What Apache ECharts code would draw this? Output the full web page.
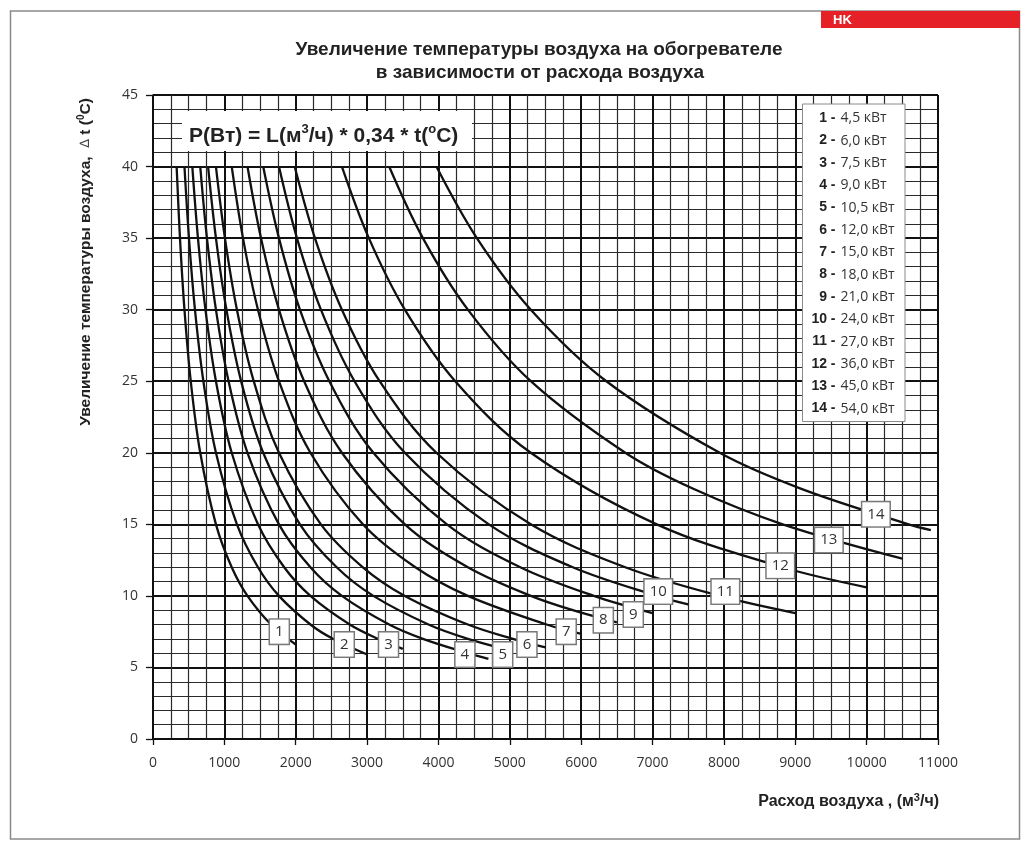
<!DOCTYPE html>
<html><head><meta charset="utf-8">
<script src="https://cdn.jsdelivr.net/npm/echarts@6/dist/echarts.min.js"></script>
<style>html,body{margin:0;padding:0;background:#fff}#c{width:1032px;height:850px}</style>
</head><body><div id="c"></div>
<script>
// ---- data ----
const curveNames = ['1','2','3','4','5','6','7','8','9','10','11','12','13','14'];
const powerLabels = ['4,5 кВт','6,0 кВт','7,5 кВт','9,0 кВт','10,5 кВт','12,0 кВт','15,0 кВт','18,0 кВт','21,0 кВт','24,0 кВт','27,0 кВт','36,0 кВт','45,0 кВт','54,0 кВт'];

// [air flow m3/h, temperature rise °C]
const curve1  = [[331,40],[378,35],[441,30],[529,25],[662,20],[882,15],[1103,12],[1324,10],[1654,8],[2000,6.6]];
const curve2  = [[441,40],[504,35],[588,30],[706,25],[882,20],[1176,15],[1471,12],[1765,10],[2206,8],[2521,7],[3000,5.9]];
const curve3  = [[551,40],[630,35],[735,30],[882,25],[1103,20],[1471,15],[1838,12],[2206,10],[2757,8],[3151,7],[3500,6.3]];
const curve4  = [[662,40],[756,35],[882,30],[1059,25],[1324,20],[1765,15],[2206,12],[2647,10],[3309,8],[3782,7],[4412,6],[4700,5.6]];
const curve5  = [[772,40],[882,35],[1029,30],[1235,25],[1544,20],[2059,15],[2574,12],[3088,10],[3860,8],[4412,7],[5000,6.2]];
const curve6  = [[882,40],[1008,35],[1176,30],[1412,25],[1765,20],[2353,15],[2941,12],[3529,10],[4412,8],[5042,7],[5500,6.4]];
const curve7  = [[1103,40],[1261,35],[1471,30],[1765,25],[2206,20],[2941,15],[3676,12],[4412,10],[5515,8],[6000,7.35]];
const curve8  = [[1324,40],[1513,35],[1765,30],[2118,25],[2647,20],[3529,15],[4412,12],[5294,10],[5882,9],[6500,8.15]];
const curve9  = [[1544,40],[1765,35],[2059,30],[2471,25],[3088,20],[4118,15],[5147,12],[6176,10],[7000,8.8]];
const curve10 = [[1765,40],[2017,35],[2353,30],[2824,25],[3529,20],[4706,15],[5882,12],[7059,10],[7500,9.4]];
const curve11 = [[1985,40],[2269,35],[2647,30],[3176,25],[3971,20],[5294,15],[6618,12],[7941,10],[9000,8.8]];
const curve12 = [[2647,40],[3025,35],[3529,30],[4235,25],[5294,20],[7059,15],[8824,12],[10000,10.6]];
const curve13 = [[3309,40],[3782,35],[4412,30],[5294,25],[6618,20],[7563,17.5],[8824,15],[10500,12.6]];
const curve14 = [[3971,40],[4538,35],[5294,30],[6353,25],[7941,20],[9076,17.5],[10588,15],[10900,14.6]];
const curves = [curve1,curve2,curve3,curve4,curve5,curve6,curve7,curve8,curve9,curve10,curve11,curve12,curve13,curve14];

// positions of the numbered boxes on the curves
const labelPoints = [[1770,7.5],[2680,6.6],[3300,6.6],[4370,5.9],[4900,5.9],[5240,6.6],[5790,7.5],[6310,8.3],[6730,8.7],[7080,10.3],[8020,10.3],[8790,12.1],[9470,13.9],[10130,15.7]];

const titleLines = ['Увеличение температуры воздуха на обогревателе','в зависимости от расхода воздуха'];

// ---- chart ----
const chart = echarts.init(document.getElementById('c'), null, {renderer:'canvas'});
const tickFont = 'Open Sans';
const boldFont = 'Liberation Sans';

const series = curves.map((c,i)=>({
  type:'line', name:curveNames[i], data:c, showSymbol:false, smooth:0.35,
  lineStyle:{color:'#111', width:2.3}, z:3, silent:true
}));
series.push({
  type:'scatter', name:'labels', symbolSize:0.1, z:10, silent:true,
  itemStyle:{color:'#fff', opacity:1},
  data: labelPoints.map((p,i)=>({value:p, name:curveNames[i]})),
  label:{show:true, position:'inside', formatter:p=>p.name, fontFamily:tickFont, fontSize:15, opacity:1,
    color:'#333', backgroundColor:'#fff', borderColor:'#7a7a7a', borderWidth:1.5, padding:[5,5,4,5]}
});

const legendElems = [];
legendElems.push({type:'rect', shape:{x:802.5,y:104,width:102.5,height:317.5}, style:{fill:'#fff', stroke:'#8a8a8a', lineWidth:1}, z:20});
curveNames.forEach((n,i)=>{
  const y = 118.3 + i*22.33;
  legendElems.push({type:'text', x:835.5, y:y, z:21, style:{text:n+' -', font:'bold 14px "'+boldFont+'"', fill:'#222', textAlign:'right', textVerticalAlign:'middle'}});
  legendElems.push({type:'text', x:840.5, y:y, z:21, style:{text:powerLabels[i], font:'14px "'+tickFont+'"', fill:'#333', textAlign:'left', textVerticalAlign:'middle'}});
});

const option = {
  animation:false,
  backgroundColor:'#fff',
  grid:{left:153, right:94, top:95, bottom:111, containLabel:false},
  xAxis:{type:'value', min:0, max:11000, interval:1000,
    axisLine:{show:true, lineStyle:{color:'#111', width:1.5}},
    axisTick:{show:true, inside:false, length:6, lineStyle:{color:'#111', width:1.3}},
    axisLabel:{fontFamily:tickFont, fontSize:14, color:'#333', margin:17, formatter:v=>String(v)},
    splitLine:{show:true, lineStyle:{color:'#111', width:2}},
    minorTick:{show:false, splitNumber:4},
    minorSplitLine:{show:true, lineStyle:{color:'#2a2a2a', width:1.2}}
  },
  yAxis:{type:'value', min:0, max:45, interval:5,
    axisLine:{show:true, lineStyle:{color:'#111', width:1.5}},
    axisTick:{show:true, inside:false, length:7, lineStyle:{color:'#111', width:1.3}},
    axisLabel:{fontFamily:tickFont, fontSize:14, color:'#333', margin:15, formatter:v=>String(v)},
    splitLine:{show:true, lineStyle:{color:'#111', width:2}},
    minorTick:{show:false, splitNumber:5},
    minorSplitLine:{show:true, lineStyle:{color:'#2a2a2a', width:1.2}}
  },
  graphic:[
    {type:'rect', shape:{x:10.5,y:11,width:1009,height:828}, style:{fill:'none', stroke:'#8a8a8a', lineWidth:1.5}, z:1},
    {type:'rect', shape:{x:821,y:11,width:199,height:17}, style:{fill:'#e52127'}, z:2},
    {type:'text', x:833, y:20, z:3, style:{text:'HK', font:'bold 13px "'+boldFont+'"', fill:'#fff', textVerticalAlign:'middle'}},
    {type:'text', x:539, y:50, z:3, style:{text:titleLines[0], font:'bold 19px "'+boldFont+'"', fill:'#222', textAlign:'center', textVerticalAlign:'middle'}},
    {type:'text', x:540, y:73, z:3, style:{text:titleLines[1], font:'bold 19px "'+boldFont+'"', fill:'#222', textAlign:'center', textVerticalAlign:'middle'}},
    {type:'rect', shape:{x:182,y:111,width:290,height:40}, style:{fill:'#fff'}, z:20},
    {type:'text', x:189, y:136, z:21, style:{
      text:'{a|P(Вт) = L(м}{s|3}{a|/ч) * 0,34 * t(}{s|o}{a|C)}',
      textVerticalAlign:'middle',
      rich:{a:{fontFamily:boldFont, fontWeight:'bold', fontSize:21, lineHeight:26, fill:'#222', color:'#222'},
            s:{fontFamily:boldFont, fontWeight:'bold', fontSize:13, lineHeight:13, verticalAlign:'top', fill:'#222', color:'#222'}}
    }},
    {type:'text', x:939, y:802, z:21, style:{
      text:'{a|Расход воздуха , (м}{s|3}{a|/ч)}',
      textAlign:'right', textVerticalAlign:'middle',
      rich:{a:{fontFamily:boldFont, fontWeight:'bold', fontSize:16, lineHeight:20, fill:'#222', color:'#222'},
            s:{fontFamily:boldFont, fontWeight:'bold', fontSize:11, lineHeight:11, verticalAlign:'top', fill:'#222', color:'#222'}}
    }},
    {type:'text', x:86, y:262, rotation:Math.PI/2, z:21, style:{
      text:'{a|Увеличение температуры воздуха,  }{r|∆}{a| t (}{s|0}{a|C)}',
      textAlign:'center', textVerticalAlign:'middle',
      rich:{a:{fontFamily:boldFont, fontWeight:'bold', fontSize:15.5, lineHeight:19, fill:'#222', color:'#222'},
            r:{fontFamily:'DejaVu Sans', fontSize:13, lineHeight:19, fill:'#444', color:'#444'},
            s:{fontFamily:boldFont, fontWeight:'bold', fontSize:10, lineHeight:10, verticalAlign:'top', fill:'#222', color:'#222'}}
    }},
    ...legendElems
  ],
  series:series
};
chart.setOption(option);
</script>
</body></html>
